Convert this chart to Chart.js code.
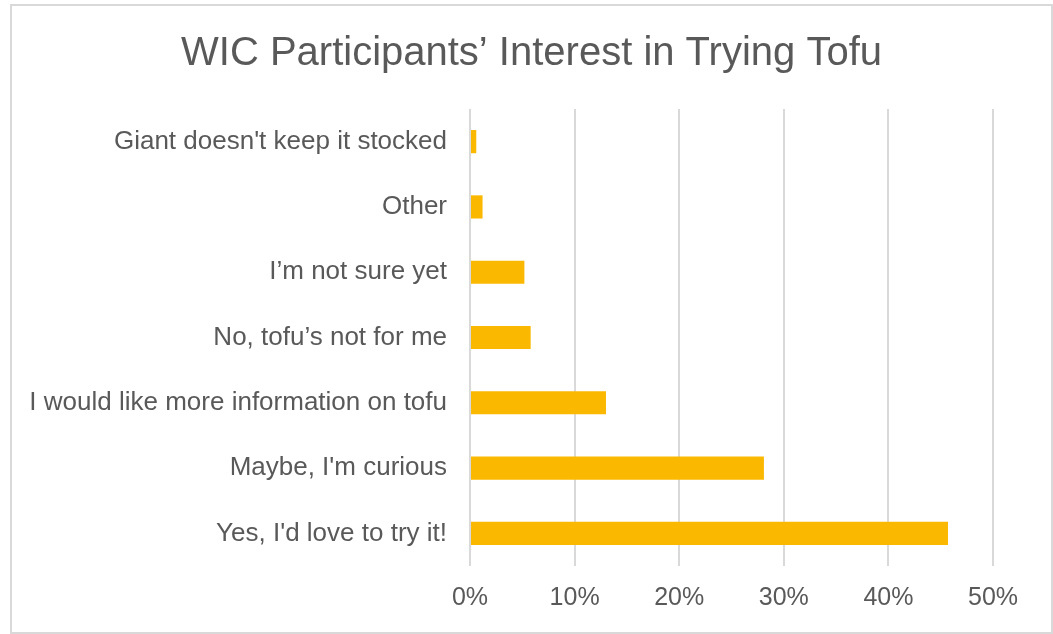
<!DOCTYPE html>
<html>
<head>
<meta charset="utf-8">
<script src="https://cdn.jsdelivr.net/npm/chart.js@4/dist/chart.umd.min.js"></script>
<style>
  html, body { margin: 0; padding: 0; background: #ffffff; }
  #wrap { position: relative; width: 1053px; height: 634px; }
  #frame { position: absolute; left: 10px; top: 4px; width: 1039px; height: 626px; border: 2px solid #d9d9d9; box-sizing: content-box; pointer-events: none; }
  canvas { display: block; }
</style>
</head>
<body>
<div id="wrap">
  <canvas id="chart" width="1053" height="634"></canvas>
  <div id="frame"></div>
</div>
<script>
// Survey responses, top to bottom
const categories = [
  "Giant doesn't keep it stocked",
  "Other",
  "I\u2019m not sure yet",
  "No, tofu\u2019s not for me",
  "I would like more information on tofu",
  "Maybe, I'm curious",
  "Yes, I'd love to try it!"
];
// Share of respondents (%)
const shares = [0.6, 1.2, 5.2, 5.8, 13.0, 28.1, 45.7];
// Axis ticks (%)
const tickValues = [0, 10, 20, 30, 40, 50];

const FONT = "'Liberation Sans', Arial, sans-serif";
const TEXT = '#595959';

// Center the title across the whole framed card rather than the padded area
const titleAcrossCard = {
  id: 'titleAcrossCard',
  afterLayout(chart) {
    const t = chart.titleBlock;
    if (!t) return;
    t.left = 10;
    t.right = chart.width;
    t.width = t.right - t.left;
  }
};

new Chart(document.getElementById('chart'), {
  type: 'bar',
  data: {
    labels: categories,
    datasets: [{
      data: shares,
      backgroundColor: '#fbb800',
      borderWidth: 0,
      categoryPercentage: 1,
      barPercentage: 0.355
    }]
  },
  options: {
    indexAxis: 'y',
    responsive: false,
    animation: false,
    layout: { padding: { left: 0, right: 60, top: 0, bottom: 4 } },
    plugins: {
      legend: { display: false },
      tooltip: { enabled: false },
      title: {
        display: true,
        text: 'WIC Participants\u2019 Interest in Trying Tofu',
        color: TEXT,
        font: { family: FONT, size: 40, weight: 'normal', lineHeight: 1.2 },
        padding: { top: 30, bottom: 31 }
      }
    },
    scales: {
      x: {
        min: 0,
        max: 50,
        afterBuildTicks: (axis) => { axis.ticks = tickValues.map(v => ({ value: v })); },
        ticks: {
          callback: (v) => v + '%',
          color: TEXT,
          font: { family: FONT, size: 25, lineHeight: 1.2 },
          padding: 17,
          maxRotation: 0
        },
        grid: { color: '#d9d9d9', lineWidth: 2, drawTicks: false },
        border: { display: false }
      },
      y: {
        afterFit: (axis) => { axis.width = 470; },
        ticks: {
          color: TEXT,
          font: { family: FONT, size: 26 },
          padding: 15
        },
        grid: { display: false },
        border: { display: false }
      }
    }
  },
  plugins: [titleAcrossCard]
});
</script>
</body>
</html>
